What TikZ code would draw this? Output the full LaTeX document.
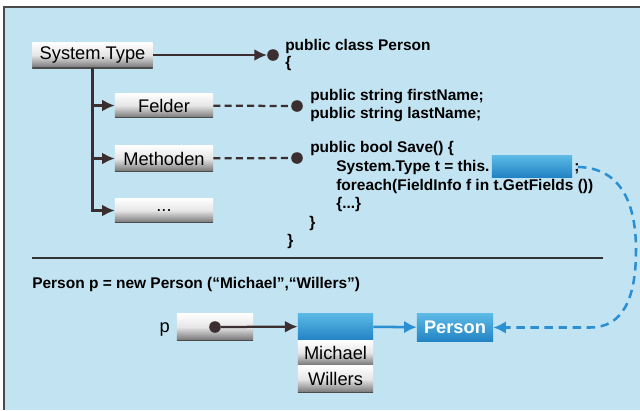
\documentclass[tikz,border=0pt]{standalone}
\usepackage{fontspec}
\setmainfont{Liberation Sans}
\usepackage{tikz}
\usetikzlibrary{positioning, shapes, arrows.meta}
\usepackage{xcolor}

\definecolor{bgblue}{HTML}{C2E3F1}
\definecolor{boxblue}{HTML}{2283C4}
\definecolor{lightblue}{HTML}{5DBAE6}
\definecolor{dashblue}{HTML}{2B8FD4}
\definecolor{dotcol}{HTML}{3B2E30}
\definecolor{framecol}{HTML}{4A4A4A}

\newcommand{\boxfont}{\fontsize{13}{15}\selectfont}
\newcommand{\codefont}{\fontsize{11}{13}\selectfont\bfseries}

\tikzset{
    graybox/.style={inner sep=0, top color=white, bottom color=black!55,
        middle color=white!90!black, font=\boxfont,
        path picture={\draw[black!70, line width=1pt]
            (path picture bounding box.south west) -- (path picture bounding box.south east);}},
    bluebox/.style={inner sep=0, top color=lightblue, bottom color=boxblue,
        text=white, font=\boxfont\bfseries},
    code/.style={anchor=base west, inner sep=0, font=\codefont},
    dot/.style={circle, fill=dotcol, inner sep=0, minimum size=0.29cm},
    link/.style={line width=1.6pt, dotcol, -{Latex[length=9pt, width=8.5pt]}},
    dashlink/.style={line width=1.6pt, dotcol, dash pattern=on 5pt off 3pt},
    bluelink/.style={line width=1.8pt, dashblue, -{Latex[length=9pt, width=9pt]}}
}

\begin{document}
\begin{tikzpicture}[x=0.025cm, y=-0.025cm]
        \useasboundingbox (0,0) rectangle (640,410);
        % Background
        \fill[white] (0,0) rectangle (640,410);
        \fill[bgblue] (4,7) rectangle (640,410);
        \draw[framecol, line width=1.2pt] (4,410) -- (4,7) -- (640,7);
        \draw[black!80, line width=0.9pt] (32,258) -- (603,258);

        % Nodes
        \node (systype) [graybox, minimum width=3cm, minimum height=0.65cm] at (92.5,55) {System.Type};
        \node (felder) [graybox, minimum width=2.45cm, minimum height=0.62cm] at (164,105.5) {Felder};
        \node (methoden) [graybox, minimum width=2.45cm, minimum height=0.65cm] at (164,158.5) {Methoden};
        \node (etc) [graybox, minimum width=2.45cm, minimum height=0.62cm] at (164,210.5) {...};

        \node (d1) [dot] at (273,55) {};
        \node (d2) [dot] at (297,106) {};
        \node (d3) [dot] at (297,158) {};

        \node (cls) [code] at (285,50) {public class Person};
        \node (ob) [code] at (285,67) {\{};
        \node (fn) [code] at (310,100) {public string firstName;};
        \node (ln) [code] at (310,118) {public string lastName;};
        \node (save) [code] at (310,152) {public bool Save() \{};
        \node (typ) [code] at (336,171) {System.Type t = this.};
        \node (gap) [bluebox, minimum width=2cm, minimum height=0.55cm] at (532,166) {};
        \node (semi) [code] at (574,171) {;};
        \node (fe) [code] at (336,190) {foreach(FieldInfo f in t.GetFields ())};
        \node (body) [code] at (336,208) {\{...\}};
        \node (cb1) [code] at (309,227) {\}};
        \node (cb2) [code] at (287,245) {\}};

        \node (decl) [code] at (32,288) {Person p = new Person (“Michael”,“Willers”)};

        \node (plabel) [font=\boxfont, anchor=base east, inner sep=0] at (170,332) {p};
        \node (pbox) [graybox, minimum width=1.9cm, minimum height=0.67cm] at (215,327) {};
        \node (pdot) [dot] at (215,327) {};
        \node (obj) [bluebox, minimum width=1.88cm, minimum height=0.67cm] at (335.5,326.5) {};
        \node (michael) [graybox, minimum width=1.88cm, minimum height=0.62cm, below=0pt of obj] {Michael};
        \node (willers) [graybox, minimum width=1.88cm, minimum height=0.67cm, below=0pt of michael] {Willers};
        \node (person) [bluebox, minimum width=1.9cm, minimum height=0.7cm] at (455,327.5) {Person};

        \coordinate (cstart) at (578,167);
        \coordinate (cbend) at (590,327.5);

        % Arrows
        \draw[link] (systype) -- (d1);
        \draw[link] (systype.south) |- (felder.west);
        \draw[link] (systype.south) |- (methoden.west);
        \draw[link] (systype.south) |- (etc.west);

        \draw[dashlink] (felder) -- (d2);
        \draw[dashlink] (methoden) -- (d3);

        \draw[link] (pdot) -- (obj);
        \draw[bluelink] (obj) -- (person);
        \draw[bluelink, dash pattern=on 6pt off 4pt] (cstart) .. controls (622,168) and (636,205) .. (636,250)
            .. controls (636,300) and (622,327.5) .. (cbend) -- (person.east);

    \end{tikzpicture}
\end{document}
